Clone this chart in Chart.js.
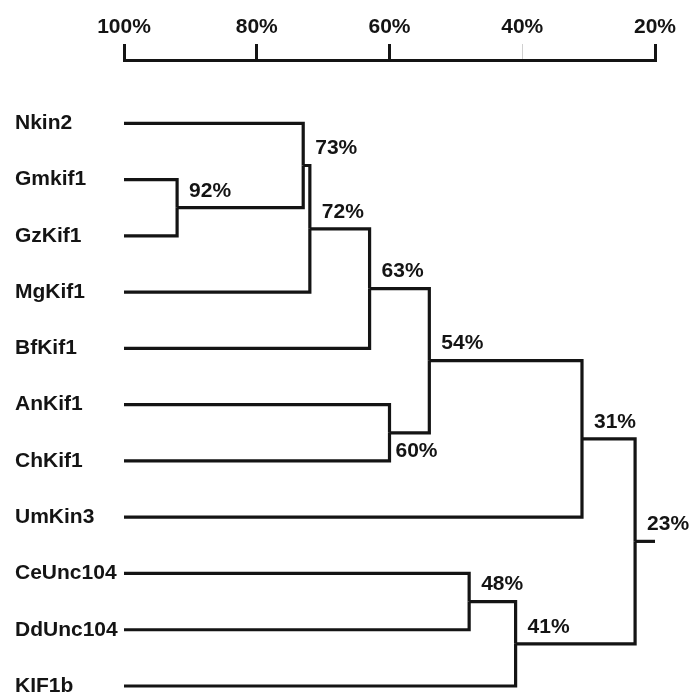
<!DOCTYPE html>
<html>
<head>
<meta charset="utf-8">
<title>Kinesin-3 similarity dendrogram</title>
<script src="https://cdn.jsdelivr.net/npm/chart.js@4/dist/chart.umd.min.js"></script>
<style>
  html, body { margin: 0; padding: 0; background: #ffffff; }
  #wrap { position: relative; width: 691px; height: 695px; }
</style>
</head>
<body>
<div id="wrap"><canvas id="tree"></canvas></div>
<script>
// Leaves, top to bottom
const leafNames = ['Nkin2', 'Gmkif1', 'GzKif1', 'MgKif1', 'BfKif1', 'AnKif1',
                   'ChKif1', 'UmKin3', 'CeUnc104', 'DdUnc104', 'KIF1b'];

// Merges in order; ids < leafNames.length are leaves, id leafNames.length + k is merge k
const mergeLeft   = [1, 0, 12, 13, 5, 14, 16, 8, 18, 17];
const mergeRight  = [2, 11, 3, 4, 6, 15, 7, 9, 10, 19];
const mergeLevels = [92, 73, 72, 63, 60, 54, 31, 48, 41, 23];

// Similarity scale (top axis)
const axisTicks = [100, 80, 60, 40, 20];
const leafLevel = 100;
const rootLevel = 20;

// ---- derive node positions from the merge table ----
const nLeaf = leafNames.length;
const nodeLevel = [];
const nodeRow = [];
leafNames.forEach((_, i) => { nodeLevel[i] = leafLevel; nodeRow[i] = i; });
mergeLevels.forEach((lv, k) => {
  const id = nLeaf + k;
  nodeLevel[id] = lv;
  nodeRow[id] = (nodeRow[mergeLeft[k]] + nodeRow[mergeRight[k]]) / 2;
});

// one elbow per child: along from the child's level, then up/down to the parent's row
const INK = '#141414';
const datasets = [];
function elbow(child, parent) {
  datasets.push({
    data: [
      { x: nodeLevel[child], y: nodeRow[child] },
      { x: nodeLevel[parent], y: nodeRow[child] },
      { x: nodeLevel[parent], y: nodeRow[parent] }
    ]
  });
}
mergeLevels.forEach((_, k) => {
  elbow(mergeLeft[k], nLeaf + k);
  elbow(mergeRight[k], nLeaf + k);
});
const rootId = nLeaf + mergeLevels.length - 1;
datasets.push({
  data: [
    { x: nodeLevel[rootId], y: nodeRow[rootId] },
    { x: rootLevel, y: nodeRow[rootId] }
  ]
});
datasets.forEach(d => Object.assign(d, {
  showLine: true,
  borderColor: INK,
  borderWidth: 3.2,
  borderCapStyle: 'butt',
  borderJoinStyle: 'miter',
  pointRadius: 0,
  pointHoverRadius: 0,
  fill: false,
  clip: false
}));

const FONT = { family: '"Liberation Sans", Arial, sans-serif', size: 21, weight: 'bold' };

// percentage labels beside each merge point
const nodeLabels = {
  id: 'nodeLabels',
  afterDatasetsDraw(chart) {
    const { ctx, scales: { x, y } } = chart;
    ctx.save();
    ctx.fillStyle = INK;
    ctx.font = `bold ${FONT.size}px ${FONT.family}`;
    ctx.textAlign = 'left';
    ctx.textBaseline = 'middle';
    mergeLevels.forEach((lv, k) => {
      const id = nLeaf + k;
      const px = x.getPixelForValue(nodeLevel[id]);
      const py = y.getPixelForValue(nodeRow[id]);
      // the AnKif1/ChKif1 pair carries its label underneath the join
      const below = (mergeLeft[k] < nLeaf && leafNames[mergeLeft[k]] === 'AnKif1');
      if (below) ctx.fillText(lv + '%', px + 6, py + 18);
      else ctx.fillText(lv + '%', px + 12, py - 17);
    });
    ctx.restore();
  }
};

new Chart(document.getElementById('tree'), {
  type: 'scatter',
  data: { datasets },
  options: {
    responsive: true,
    maintainAspectRatio: false,
    animation: false,
    events: [],
    layout: { padding: { left: 15, right: 36, top: 0, bottom: 0 } },
    plugins: { legend: { display: false }, tooltip: { enabled: false } },
    scales: {
      x: {
        type: 'linear',
        position: 'top',
        reverse: true,
        min: rootLevel,
        max: leafLevel,
        afterBuildTicks: s => { s.ticks = axisTicks.map(v => ({ value: v })); },
        afterFit: s => { s.height = 60; s.paddingLeft = 0; s.paddingRight = 0; },
        ticks: {
          color: INK,
          font: FONT,
          padding: 4,
          maxRotation: 0,
          autoSkip: false,
          callback: v => v + '%'
        },
        grid: {
          drawOnChartArea: false,
          drawTicks: true,
          tickLength: 16,
          color: c => (c.tick && c.tick.value === 40) ? '#d0d0d0' : INK,
          lineWidth: c => (c.tick && c.tick.value === 40) ? 1 : 3
        },
        border: { display: true, color: INK, width: 3 }
      },
      y: {
        type: 'linear',
        position: 'left',
        reverse: true,
        min: -1.125,
        max: 10.16,
        afterBuildTicks: s => { s.ticks = leafNames.map((_, i) => ({ value: i })); },
        afterFit: s => { s.width = 109; s.paddingTop = 0; s.paddingBottom = 0; },
        ticks: {
          color: INK,
          font: FONT,
          crossAlign: 'far',
          padding: 0,
          autoSkip: false,
          callback: v => leafNames[v]
        },
        grid: { display: false },
        border: { display: false }
      }
    }
  },
  plugins: [nodeLabels]
});
</script>
</body>
</html>
